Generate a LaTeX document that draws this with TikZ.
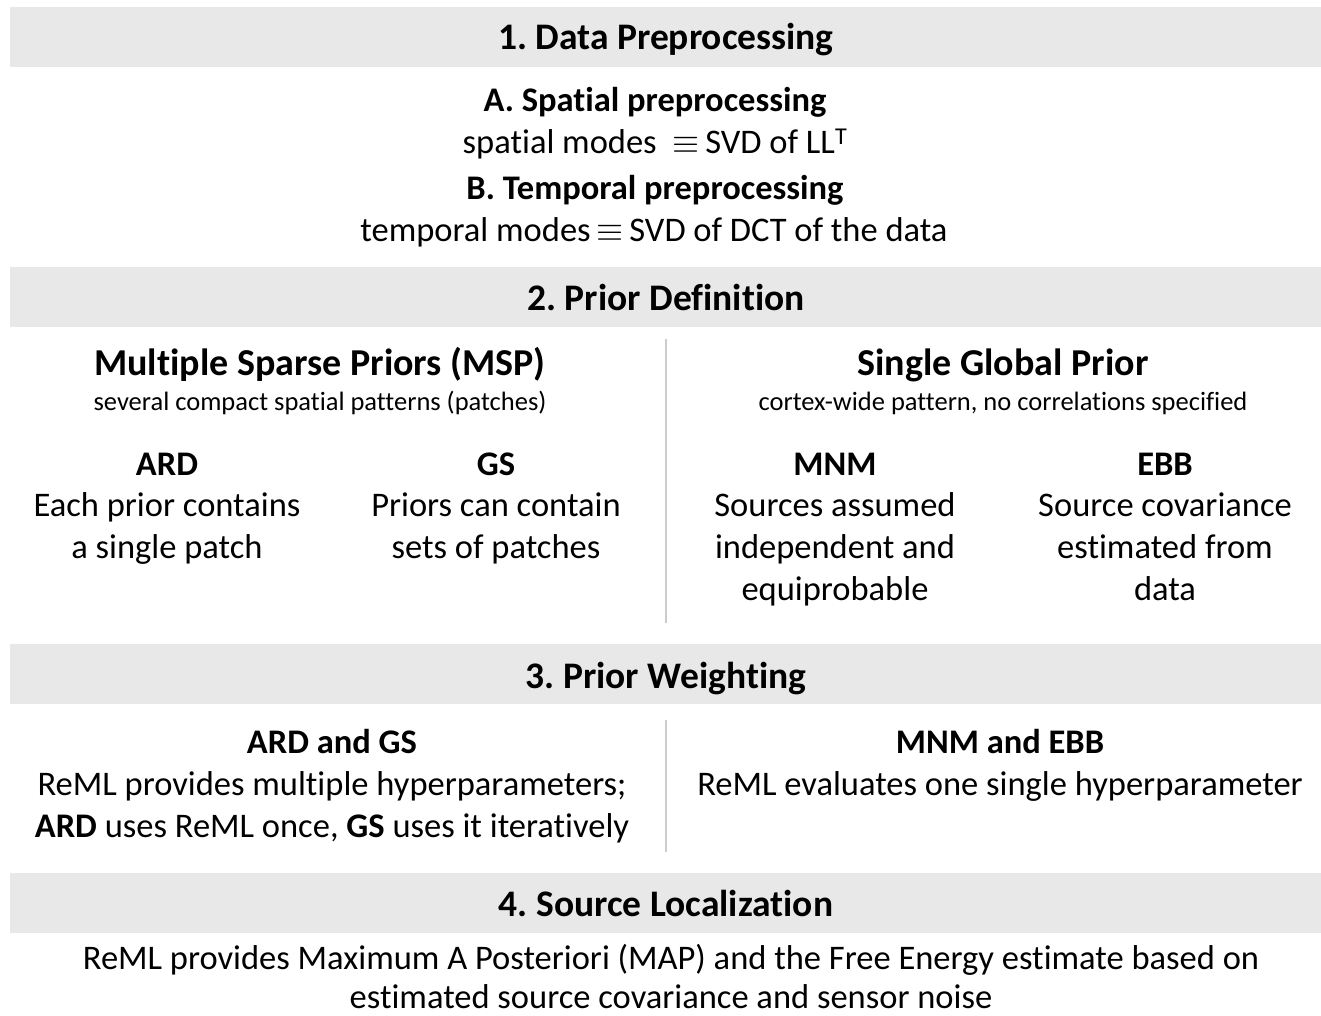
\documentclass[tikz,border=0pt]{standalone}
\usepackage{fontspec}
\setmainfont{Carlito}[Ligatures={NoCommon}]
\frenchspacing
\newcommand{\eqv}{\raisebox{0.5pt}{\scalebox{1.4}{$\equiv$}}}
\begin{document}
\begin{tikzpicture}[x=1pt,y=-1pt,
  bar/.style={fill=barfill,draw=none},
  divider/.style={draw=divgray,line width=1.5pt},
  txt/.style={anchor=base,inner sep=0pt,font=\fontsize{34.5}{40}\selectfont},
  sub/.style={txt,font=\fontsize{34.5}{40}\selectfont\bfseries},
  head/.style={txt,font=\fontsize{37.5}{44}\selectfont\bfseries},
  bighead/.style={txt,font=\fontsize{38}{44}\selectfont\bfseries},
  small/.style={txt,font=\fontsize{26.5}{30}\selectfont}]
\definecolor{barfill}{HTML}{E8E8E8}
\definecolor{divgray}{HTML}{CCCCCC}
\useasboundingbox (0,0) rectangle (1321,1016);
\fill[white] (0,0) rectangle (1321,1016);
% bars
\fill[bar] (10,7) rectangle (1321,67);
\fill[bar] (10,267) rectangle (1321,327);
\fill[bar] (10,644) rectangle (1321,704);
\fill[bar] (10,873) rectangle (1321,933);
% dividers
\draw[divider] (666,339) -- (666,623);
\draw[divider] (666,720) -- (666,852);
% section 1
\node[head] (h1) at (666,50) {1. Data Preprocessing};
\node[sub] (a1) at (655,112) {A. Spatial preprocessing};
\node[txt] (a2) at (655,154) {spatial modes \ \eqv\,SVD of LL\textsuperscript{T}};
\node[sub] (b1) at (655,200) {B. Temporal preprocessing};
\node[txt] (b2) at (654,242) {temporal modes\,\eqv\,SVD of DCT of the data};
% section 2
\node[head] (h2) at (666,310) {2. Prior Definition};
\node[bighead] (msp) at (320,375) {Multiple Sparse Priors (MSP)};
\node[small] (msps) at (320,410) {several compact spatial patterns (patches)};
\node[bighead] (sgp) at (1003,375) {Single Global Prior};
\node[small] (sgps) at (1003,410) {cortex-wide pattern, no correlations specified};
\node[sub] (ard) at (167,475) {ARD};
\node[txt] (ard1) at (167,516) {Each prior contains};
\node[txt] (ard2) at (167,558) {a single patch};
\node[sub] (gs) at (496,475) {GS};
\node[txt] (gs1) at (496,516) {Priors can contain};
\node[txt] (gs2) at (496,558) {sets of patches};
\node[sub] (mnm) at (835,475) {MNM};
\node[txt] (mnm1) at (835,516) {Sources assumed};
\node[txt] (mnm2) at (835,558) {independent and};
\node[txt] (mnm3) at (835,600) {equiprobable};
\node[sub] (ebb) at (1165,475) {EBB};
\node[txt] (ebb1) at (1165,516) {Source covariance};
\node[txt] (ebb2) at (1165,558) {estimated from};
\node[txt] (ebb3) at (1165,600) {data};
% section 3
\node[head] (h3) at (666,688) {3. Prior Weighting};
\node[sub] (ag) at (332,753) {ARD and GS};
\node[txt] (ag1) at (332,795) {ReML provides multiple hyperparameters;};
\node[txt] (ag2) at (332,837) {\textbf{ARD} uses ReML once, \textbf{GS} uses it iteratively};
\node[sub] (me) at (1000,753) {MNM and EBB};
\node[txt] (me1) at (1000,795) {ReML evaluates one single hyperparameter};
% section 4
\node[head] (h4) at (666,916) {4. Source Localization};
\node[txt] (s1) at (671,969) {ReML provides Maximum A Posteriori (MAP) and the Free Energy estimate based on};
\node[txt] (s2) at (671,1008) {estimated source covariance and sensor noise};
\end{tikzpicture}
\end{document}
